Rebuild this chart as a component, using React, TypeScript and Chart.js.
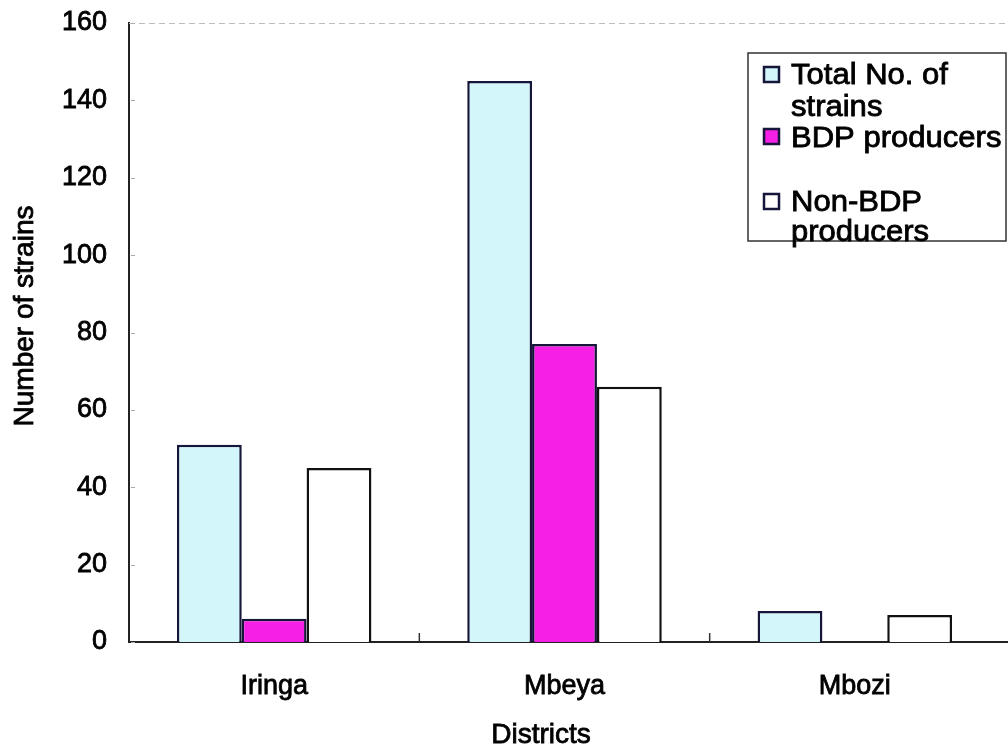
import React, { useEffect, useRef } from "react";
import { Chart, registerables } from "chart.js";

Chart.register(...registerables);

const categories = ["Iringa", "Mbeya", "Mbozi"];
const totalStrains = [51, 145, 8];
const bdpProducers = [6, 77, 0];
const nonBdpProducers = [45, 66, 7];
const seriesNames = ["Total No. of strains", "BDP producers", "Non-BDP producers"];
const legendLines = [["Total No. of", "strains"], ["BDP producers"], ["Non-BDP", "producers"]];
const yMin = 0;
const yMax = 160;
const yStep = 20;
const xTitle = "Districts";
const yTitle = "Number of strains";

const FONT = '"Liberation Sans", Arial, Helvetica, sans-serif';
const EDGE = "#16163a";
const COLORS = ["#d2f6fa", "#f61fe6", "#ffffff"];
const TEXT_STROKE = 0.8;

function heavyText(ctx: CanvasRenderingContext2D, s: string, x: number, y: number) {
  ctx.fillText(s, x, y);
  ctx.strokeText(s, x, y);
}

const decorPlugin = {
  id: "decor",
  afterDraw(chart: any) {
    const { ctx, chartArea, scales } = chart;
    const W = chart.width;
    const x = scales.x;
    const y = scales.y;
    ctx.save();
    // top dashed border
    ctx.strokeStyle = "#bdbdbd";
    ctx.lineWidth = 1;
    ctx.setLineDash([6, 4]);
    ctx.beginPath();
    ctx.moveTo(chartArea.left, chartArea.top + 0.5);
    ctx.lineTo(W, chartArea.top + 0.5);
    ctx.stroke();
    ctx.setLineDash([]);
    // extend x axis line to edge
    ctx.strokeStyle = "#222";
    ctx.lineWidth = 2;
    ctx.beginPath();
    ctx.moveTo(chartArea.right - 1, chartArea.bottom);
    ctx.lineTo(W, chartArea.bottom);
    ctx.stroke();
    // small inner y ticks
    ctx.strokeStyle = "#aaaaaa";
    ctx.lineWidth = 1;
    y.ticks.forEach((t: any) => {
      const py = Math.round(y.getPixelForValue(t.value)) + 0.5;
      ctx.beginPath();
      ctx.moveTo(chartArea.left + 2, py);
      ctx.lineTo(chartArea.left + 6, py);
      ctx.stroke();
    });
    // inner x ticks between categories
    ctx.strokeStyle = "#333";
    ctx.lineWidth = 1.5;
    for (let i = 0; i < categories.length - 1; i++) {
      const px = (x.getPixelForValue(i) + x.getPixelForValue(i + 1)) / 2;
      ctx.beginPath();
      ctx.moveTo(px, chartArea.bottom - 9);
      ctx.lineTo(px, chartArea.bottom);
      ctx.stroke();
    }
    // axis titles
    ctx.fillStyle = "#000";
    ctx.strokeStyle = "#000";
    ctx.lineWidth = TEXT_STROKE;
    ctx.font = `28px ${FONT}`;
    ctx.textAlign = "center";
    ctx.textBaseline = "middle";
    heavyText(ctx, xTitle, 541, 735);
    ctx.save();
    ctx.translate(25, 316);
    ctx.rotate(-Math.PI / 2);
    heavyText(ctx, yTitle, 0, 0);
    ctx.restore();
    // legend box
    const lx = 748, ly = 53, lw = 258, lh = 188;
    ctx.fillStyle = "#fff";
    ctx.fillRect(lx, ly, lw, lh);
    ctx.strokeStyle = "#333";
    ctx.lineWidth = 1.5;
    ctx.strokeRect(lx, ly, lw, lh);
    const markerTops = [67, 129, 194];
    const baselines = [[84, 116], [147], [211, 241]];
    ctx.font = `29px ${FONT}`;
    ctx.textAlign = "left";
    ctx.textBaseline = "alphabetic";
    legendLines.forEach((lines, i) => {
      ctx.fillStyle = COLORS[i];
      ctx.fillRect(764, markerTops[i], 15, 15);
      ctx.strokeStyle = EDGE;
      ctx.lineWidth = 2.5;
      ctx.strokeRect(764, markerTops[i], 15, 15);
      ctx.fillStyle = "#000";
      ctx.strokeStyle = "#000";
      ctx.lineWidth = TEXT_STROKE;
      lines.forEach((ln, j) => {
        ctx.save();
        ctx.translate(791, baselines[i][j]);
        ctx.scale(1.07, 1);
        heavyText(ctx, ln, 0, 0);
        ctx.restore();
      });
    });
    ctx.restore();
  },
};

export default function App() {
  const ref = useRef<HTMLCanvasElement | null>(null);
  useEffect(() => {
    if (!ref.current) return;
    const chart = new Chart(ref.current, {
      type: "bar",
      data: {
        labels: categories,
        datasets: [
          { label: seriesNames[0], data: totalStrains, backgroundColor: COLORS[0], borderColor: EDGE, borderWidth: 2.5 },
          { label: seriesNames[1], data: bdpProducers, backgroundColor: COLORS[1], borderColor: EDGE, borderWidth: 2.5 },
          { label: seriesNames[2], data: nonBdpProducers, backgroundColor: COLORS[2], borderColor: "#111", borderWidth: 2.5 },
        ],
      },
      options: {
        responsive: false,
        animation: false,
        datasets: { bar: { barPercentage: 1, categoryPercentage: 0.67, borderSkipped: "bottom" } },
        layout: { padding: { top: 23, right: 8, left: 0, bottom: 0 } },
        plugins: { legend: { display: false }, tooltip: { enabled: false } },
        scales: {
          x: {
            grid: { display: false, drawTicks: false },
            border: { display: true, color: "#222", width: 2 },
            ticks: {
              color: "#000",
              font: { family: FONT, size: 27 },
              padding: 28,
              textStrokeColor: "#000",
              textStrokeWidth: TEXT_STROKE,
            },
            afterFit: (s: any) => { s.height = 107; s.paddingLeft = 0; s.paddingRight = 0; },
          },
          y: {
            min: yMin,
            max: yMax,
            grid: { display: false, drawTicks: false },
            border: { display: true, color: "#222", width: 2 },
            ticks: {
              stepSize: yStep,
              color: "#000",
              font: { family: FONT, size: 27 },
              padding: 22,
              textStrokeColor: "#000",
              textStrokeWidth: TEXT_STROKE,
            },
            afterFit: (s: any) => { s.width = 129; s.paddingTop = 0; s.paddingBottom = 0; },
          },
        },
      },
      plugins: [decorPlugin],
    });
    return () => chart.destroy();
  }, []);
  return (
    <div style={{ position: "fixed", left: 0, top: 0, width: 1008, height: 749, background: "#fff" }}>
      <canvas ref={ref} width={1008} height={749} style={{ display: "block" }} />
    </div>
  );
}
